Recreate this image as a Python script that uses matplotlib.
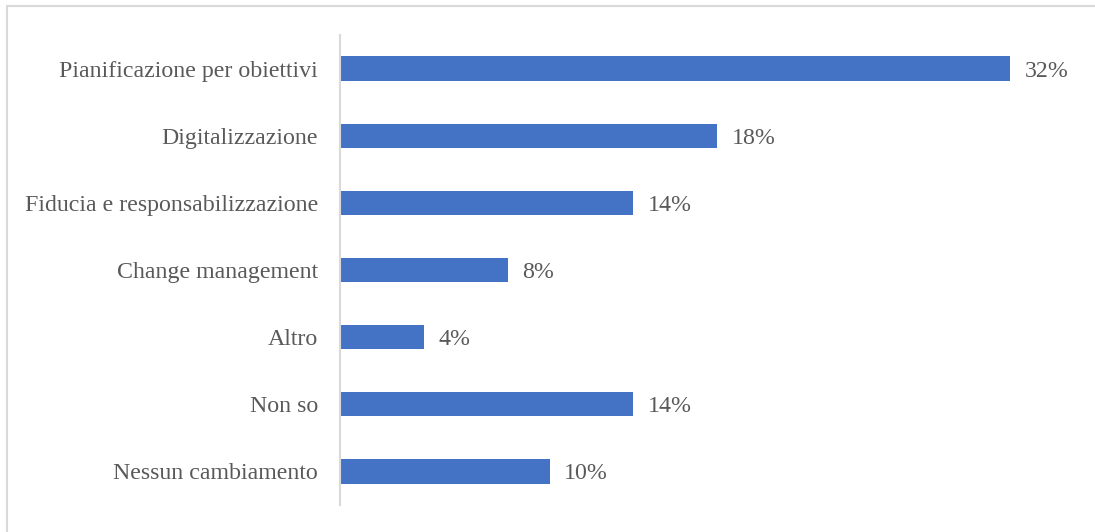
import matplotlib.pyplot as plt
from matplotlib.patches import Rectangle

categories = ['Pianificazione per obiettivi', 'Digitalizzazione',
              'Fiducia e responsabilizzazione', 'Change management',
              'Altro', 'Non so', 'Nessun cambiamento']
values = [32, 18, 14, 8, 4, 14, 10]

W, H = 1095, 532
bar_col = '#4472C4'
txt_col = '#595959'

plt.rcParams['font.family'] = ['Liberation Serif', 'DejaVu Serif']

fig = plt.figure(figsize=(W / 100, H / 100), dpi=100)

# chart frame (only top and left edges fall inside the image)
fig.patches.append(Rectangle((6.5 / W, -0.1), 1.2, 1 - 5.5 / H - (-0.1),
                             transform=fig.transFigure, fill=False,
                             edgecolor='#D9D9D9', linewidth=1.5))

# axes placed so the spine sits at x=340 and spans y=35..505
ax = fig.add_axes([340 / W, 1 - 505 / H, 700 / W, 470 / H])

ypos = list(range(len(categories)))[::-1]
ax.barh(ypos, values, height=0.36, color=bar_col)

ax.set_xlim(0, 700 / 20.95)
ax.set_ylim(-0.5, len(categories) - 0.5)
ax.set_yticks(ypos)
ax.set_yticklabels(categories, fontsize=17.2, color=txt_col)
ax.tick_params(axis='y', length=0, pad=16)
ax.set_xticks([])

for sp in ['top', 'right', 'bottom']:
    ax.spines[sp].set_visible(False)
ax.spines['left'].set_color('#D9D9D9')
ax.spines['left'].set_linewidth(1.5)

for y, v in zip(ypos, values):
    ax.annotate(f'{v}%', (v, y), xytext=(10.5, 0), textcoords='offset points',
                va='center_baseline', ha='left', fontsize=17.2, color=txt_col)

fig.savefig('out.png', dpi=100)
